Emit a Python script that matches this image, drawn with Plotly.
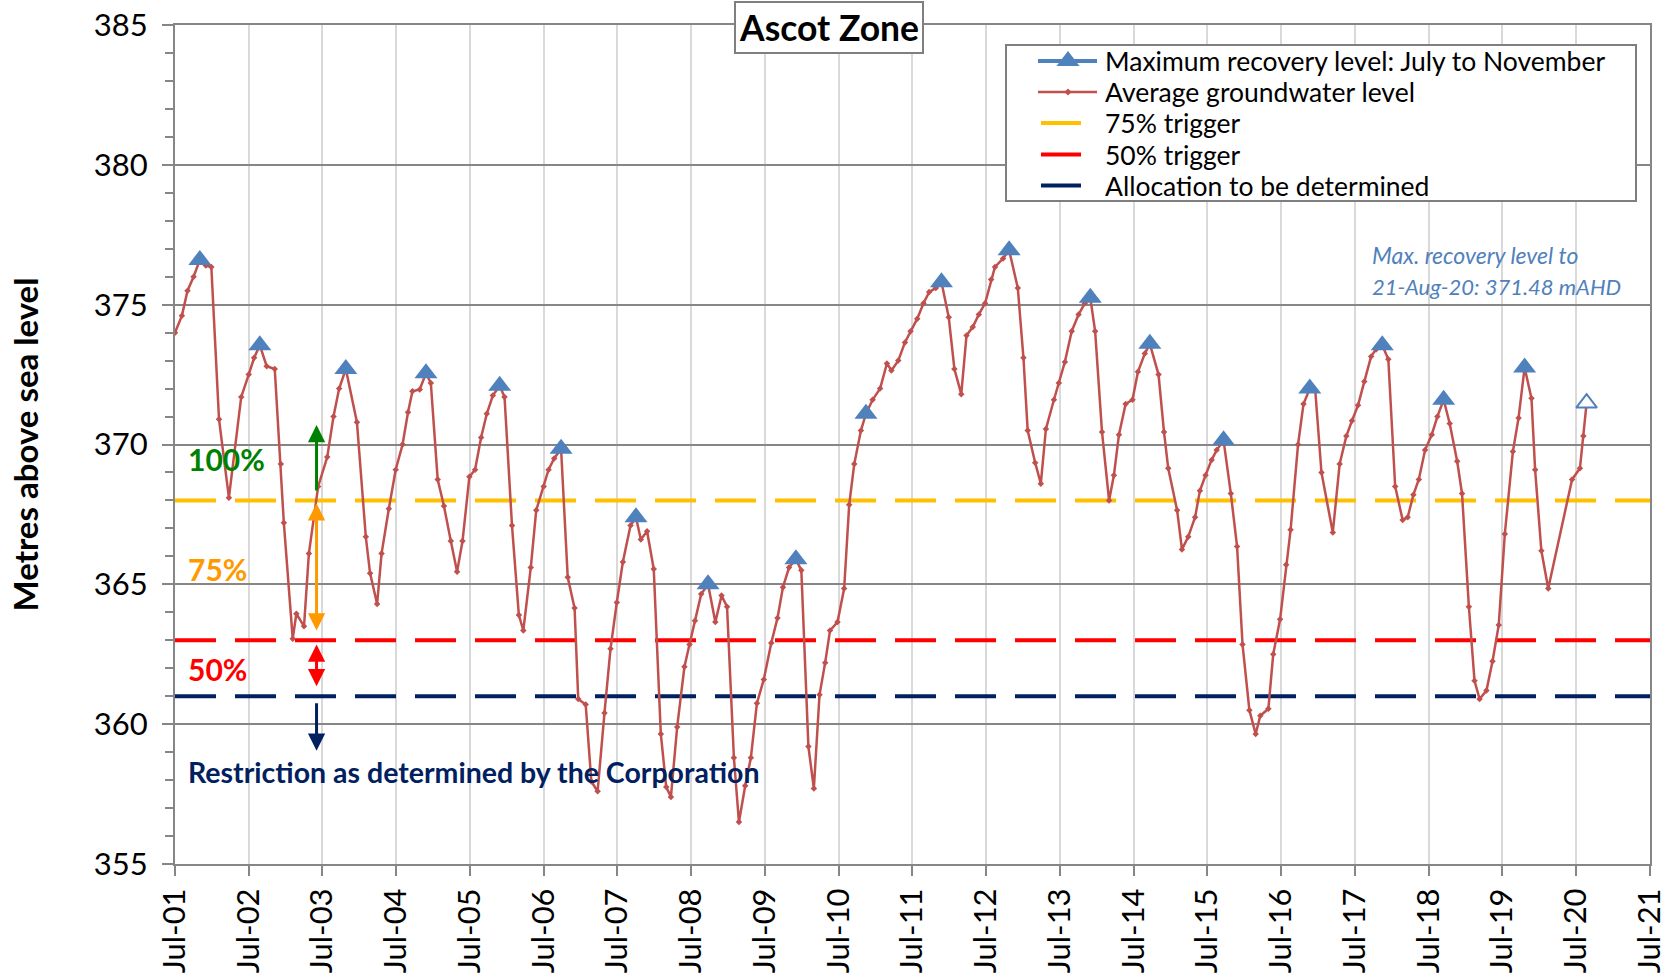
import plotly.graph_objects as go

# ---------------- data ----------------
avg_dates = [
    "2001-07-01", "2001-08-04", "2001-09-01", "2001-10-01", "2001-11-01", "2001-12-01", "2001-12-28",
    "2002-02-04", "2002-03-25", "2002-05-25", "2002-07-01", "2002-07-28", "2002-08-25", "2002-09-28",
    "2002-11-07", "2002-12-07", "2002-12-22", "2003-02-04", "2003-02-22", "2003-04-01", "2003-04-25",
    "2003-06-10", "2003-07-25", "2003-08-25", "2003-09-22", "2003-10-25", "2003-12-19", "2004-02-01",
    "2004-02-22", "2004-03-28", "2004-04-19", "2004-05-25", "2004-06-28", "2004-08-01", "2004-08-28",
    "2004-09-19", "2004-10-25", "2004-11-25", "2004-12-19", "2005-01-22", "2005-02-22", "2005-03-28",
    "2005-04-28", "2005-05-25", "2005-06-28", "2005-07-26", "2005-08-25", "2005-09-22", "2005-10-22",
    "2005-11-25", "2005-12-19", "2006-01-25", "2006-02-28", "2006-03-22", "2006-04-28", "2006-05-25",
    "2006-07-01", "2006-07-25", "2006-08-22", "2006-09-25", "2006-10-28", "2006-12-01", "2006-12-19",
    "2007-01-25", "2007-02-22", "2007-03-25", "2007-04-28", "2007-05-28", "2007-06-28", "2007-07-28",
    "2007-09-04", "2007-10-01", "2007-10-25", "2007-11-25", "2007-12-28", "2008-02-01", "2008-02-28",
    "2008-03-22", "2008-04-22", "2008-05-28", "2008-06-22", "2008-07-19", "2008-08-19", "2008-09-22",
    "2008-10-28", "2008-11-28", "2008-12-25", "2009-01-28", "2009-02-22", "2009-03-25", "2009-04-22",
    "2009-05-22", "2009-06-25", "2009-08-01", "2009-09-01", "2009-09-28", "2009-10-28", "2009-12-01",
    "2009-12-28", "2010-02-01", "2010-02-28", "2010-03-28", "2010-04-25", "2010-05-19", "2010-06-25",
    "2010-07-28", "2010-08-22", "2010-09-16", "2010-10-19", "2010-11-13", "2010-12-16", "2011-01-22",
    "2011-02-25", "2011-03-19", "2011-04-22", "2011-05-25", "2011-06-22", "2011-07-25", "2011-08-25",
    "2011-09-22", "2011-10-25", "2011-11-22", "2011-12-28", "2012-01-25", "2012-02-28", "2012-03-25",
    "2012-04-25", "2012-05-25", "2012-06-25", "2012-07-25", "2012-08-13", "2012-09-22", "2012-10-22",
    "2012-12-04", "2013-01-01", "2013-01-22", "2013-02-28", "2013-03-28", "2013-04-22", "2013-06-01",
    "2013-06-25", "2013-07-25", "2013-08-28", "2013-10-01", "2013-11-01", "2013-11-28", "2013-12-22",
    "2014-01-25", "2014-03-01", "2014-03-25", "2014-04-19", "2014-05-22", "2014-06-25", "2014-07-22",
    "2014-08-25", "2014-09-19", "2014-11-01", "2014-11-28", "2014-12-19", "2015-02-01", "2015-02-25",
    "2015-03-28", "2015-05-01", "2015-05-25", "2015-06-22", "2015-07-22", "2015-08-16", "2015-09-19",
    "2015-10-25", "2015-11-25", "2015-12-22", "2016-01-25", "2016-02-25", "2016-03-19", "2016-04-28",
    "2016-05-22", "2016-06-25", "2016-07-25", "2016-08-16", "2016-09-22", "2016-10-19", "2016-11-19",
    "2016-12-16", "2017-01-16", "2017-03-13", "2017-04-16", "2017-05-19", "2017-06-16", "2017-07-16",
    "2017-08-16", "2017-09-19", "2017-10-13", "2017-11-13", "2017-12-13", "2018-01-16", "2018-02-22",
    "2018-03-19", "2018-04-16", "2018-05-13", "2018-06-13", "2018-07-16", "2018-08-13", "2018-09-13",
    "2018-10-13", "2018-11-19", "2018-12-13", "2019-01-16", "2019-02-13", "2019-03-10", "2019-04-13",
    "2019-05-13", "2019-06-13", "2019-07-13", "2019-08-22", "2019-09-19", "2019-10-19", "2019-11-22",
    "2019-12-10", "2020-01-10", "2020-02-13", "2020-06-10", "2020-07-19", "2020-08-05", "2020-08-21",
]
avg_levels = [
    374.0, 374.6, 375.5, 376.0, 376.6, 376.4, 376.35,
    370.9, 368.1, 371.7, 372.5, 373.1, 373.55, 372.8,
    372.7, 369.3, 367.2, 363.05, 363.95, 363.5, 366.1,
    368.5, 369.55, 371.0, 372.0, 372.7, 370.8, 366.7,
    365.4, 364.3, 366.1, 367.7, 369.1, 370.0, 371.15,
    371.9, 371.97, 372.55, 372.2, 368.75, 367.8, 366.55,
    365.45, 366.55, 368.85, 369.1, 370.25, 371.1, 371.75,
    372.1, 371.7, 367.1, 363.9, 363.35, 365.6, 367.65,
    368.5, 369.1, 369.5, 369.85, 365.25, 364.15, 360.9,
    360.7, 357.95, 357.6, 360.4, 362.7, 364.35, 365.8,
    367.1, 367.4, 366.6, 366.9, 365.55, 359.65, 357.75,
    357.4, 359.9, 362.05, 362.85, 363.7, 364.65, 365.0,
    363.65, 364.6, 364.2, 358.8, 356.5, 357.8, 358.8,
    360.75, 361.6, 362.9, 363.8, 364.9, 365.6, 365.9,
    365.5, 359.2, 357.7, 361.05, 362.2, 363.35, 363.65,
    364.85, 367.85, 369.3, 370.5, 371.1, 371.6, 372.0,
    372.9, 372.65, 373.0, 373.65, 374.05, 374.5, 375.05,
    375.45, 375.6, 375.8, 374.55, 372.7, 371.8, 373.9,
    374.2, 374.65, 375.05, 375.9, 376.35, 376.65, 376.95,
    375.6, 373.1, 370.5, 369.35, 368.6, 370.55, 371.6,
    372.2, 372.95, 374.05, 374.65, 375.05, 375.25, 374.05,
    370.45, 368.0, 368.9, 370.35, 371.45, 371.6, 372.6,
    373.25, 373.6, 372.5, 370.45, 369.15, 367.65, 366.25,
    366.7, 367.4, 368.35, 368.9, 369.45, 369.8, 370.15,
    368.25, 366.35, 362.85, 360.5, 359.65, 360.3, 360.55,
    362.5, 363.75, 365.7, 366.95, 370.0, 371.45, 372.0,
    371.95, 369.0, 366.85, 369.3, 370.3, 370.85, 371.4,
    372.25, 373.15, 373.4, 373.55, 373.05, 368.5, 367.3,
    367.4, 368.2, 368.75, 369.8, 370.35, 371.0, 371.6,
    370.75, 369.4, 368.25, 364.2, 361.55, 360.9, 361.2,
    362.25, 363.55, 366.8, 369.75, 370.95, 372.75, 371.65,
    369.1, 366.2, 364.85, 368.75, 369.15, 370.3, 371.48,
]

max_dates = [
    "2001-11-01", "2002-08-25", "2003-10-25", "2004-11-25", "2005-11-25", "2006-09-25", "2007-10-01",
    "2008-09-22", "2009-12-01", "2010-11-13", "2011-11-22", "2012-10-22", "2013-11-28", "2014-09-19",
    "2015-09-19", "2016-11-19", "2017-11-13", "2018-09-13", "2019-10-19",
]
max_levels = [
    376.6, 373.55, 372.7, 372.55, 372.1, 369.85, 367.4,
    365.0, 365.9, 371.1, 375.8, 376.95, 375.25, 373.6,
    370.15, 372.0, 373.55, 371.6, 372.75,
]
current_date = ["2020-08-21"]
current_level = [371.48]

trigger_75 = 368.0
trigger_50 = 363.0
allocation_level = 361.0

tick_dates = ["%d-07-01" % y for y in range(2001, 2022)]
tick_labels = ["Jul-%02d" % (y % 100) for y in range(2001, 2022)]

legend_names = [
    "Maximum recovery level: July to November",
    "Average groundwater level",
    "75% trigger",
    "50% trigger",
    "Allocation to be determined",
]

x_start, x_end = "2001-07-01", "2021-07-01"

# ---------------- styles ----------------
FONT = "Lato"
BLUE = "#4F81BD"
RED_LINE = "#C0504D"
GOLD = "#FFC000"
RED = "#FF0000"
NAVY = "#002060"
GREEN = "#008000"
ORANGE = "#FF9900"
GRID = "#868686"
DASH = "41px,19px"

W, H = 1674, 973
ML, MR, MT, MB = 175, 24, 25, 109
PL, PR, PT, PB = ML, W - MR, MT, H - MB


def px_x(px):
    return (px - PL) / (PR - PL)


def px_y(py):
    return (PB - py) / (PB - PT)


fig = go.Figure()

# trigger lines
for lvl, col, nm in [(trigger_75, GOLD, legend_names[2]), (trigger_50, RED, legend_names[3]),
                     (allocation_level, NAVY, legend_names[4])]:
    fig.add_trace(go.Scatter(x=[x_start, x_end], y=[lvl, lvl], mode="lines", name=nm,
                             line=dict(color=col, width=4, dash=DASH),
                             showlegend=False, hoverinfo="skip"))

# average groundwater level
fig.add_trace(go.Scatter(x=avg_dates, y=avg_levels, mode="lines+markers", name=legend_names[1],
                         line=dict(color=RED_LINE, width=2.5),
                         marker=dict(color=RED_LINE, size=5, symbol="diamond"),
                         showlegend=False))

# max recovery
fig.add_trace(go.Scatter(x=max_dates, y=max_levels, mode="markers", name=legend_names[0],
                         marker=dict(color=BLUE, size=20, symbol="triangle-up"),
                         showlegend=False))
fig.add_trace(go.Scatter(x=current_date, y=current_level, mode="markers",
                         name="Max. recovery level to 21-Aug-20",
                         marker=dict(color="white", size=18, symbol="triangle-up",
                                     line=dict(color=BLUE, width=2)),
                         showlegend=False))

annotations = []
shapes = []

# ---- legend (drawn box) ----
lg_left, lg_right, lg_top, lg_bottom = 1006, 1636, 45, 201
row_y = [61, 92, 123, 154.5, 185.5]
sym_x0, sym_x1, sym_mid, dash_x1, text_x = 1038, 1097, 1068, 1081, 1103
shapes.append(dict(type="rect", xref="paper", yref="paper", layer="above",
                   x0=px_x(lg_left), x1=px_x(lg_right), y0=px_y(lg_bottom), y1=px_y(lg_top),
                   fillcolor="white", line=dict(color="#7F7F7F", width=2)))
legend_styles = [(BLUE, 4, sym_x1), (RED_LINE, 2.5, sym_x1), (GOLD, 4, dash_x1),
                 (RED, 4, dash_x1), (NAVY, 4, dash_x1)]
for i, (col, wdt, x1) in enumerate(legend_styles):
    y = px_y(row_y[i])
    shapes.append(dict(type="line", xref="paper", yref="paper", layer="above",
                       x0=px_x(sym_x0 if i < 2 else sym_x0 + 3), x1=px_x(x1), y0=y, y1=y,
                       line=dict(color=col, width=wdt)))
    annotations.append(dict(text=legend_names[i], xref="paper", yref="paper",
                            x=px_x(text_x), y=y, xanchor="left", yanchor="middle",
                            showarrow=False, font=dict(family=FONT, size=26.5, color="black")))
# legend marker glyphs
shapes.append(dict(type="path", xref="paper", yref="paper", layer="above",
                   xsizemode="pixel", ysizemode="pixel",
                   xanchor=px_x(sym_mid), yanchor=px_y(row_y[0]),
                   path="M-11.5,-5 L11.5,-5 L0,10 Z", fillcolor=BLUE, line=dict(width=0)))
shapes.append(dict(type="path", xref="paper", yref="paper", layer="above",
                   xsizemode="pixel", ysizemode="pixel",
                   xanchor=px_x(sym_mid), yanchor=px_y(row_y[1]),
                   path="M-3.5,0 L0,3.5 L3.5,0 L0,-3.5 Z", fillcolor=RED_LINE, line=dict(width=0)))

# title box
annotations.append(dict(text="<b>Ascot Zone</b>", xref="paper", yref="paper",
                        x=px_x(829), y=px_y(27.5),
                        xanchor="center", yanchor="middle", showarrow=False,
                        font=dict(family=FONT, size=35.5, color="black"),
                        bgcolor="white", bordercolor="#7F7F7F", borderwidth=2, borderpad=3))

# arrows
arrow_x = "2003-06-02"


def arrow(y_head, y_tail, color, both=False):
    return dict(x=arrow_x, y=y_head, ax=arrow_x, ay=y_tail, xref="x", yref="y",
                axref="x", ayref="y", text="", showarrow=True, arrowhead=2,
                arrowsize=1.15, arrowwidth=3, arrowcolor=color,
                arrowside="end+start" if both else "end")


annotations.append(arrow(370.7, 368.3, GREEN))
annotations.append(arrow(367.9, 363.3, ORANGE, both=True))
annotations.append(arrow(362.85, 361.3, RED, both=True))
annotations.append(arrow(359.05, 360.8, NAVY))

label_x = "2001-08-24"
for txt, yv, col, sz in [("100%", 369.47, GREEN, 30), ("75%", 365.54, ORANGE, 30),
                         ("50%", 361.96, RED, 30),
                         ("Restriction as determined by the Corporation", 358.28, NAVY, 28.5)]:
    annotations.append(dict(text="<b>%s</b>" % txt, x=label_x, y=yv, xref="x", yref="y",
                            xanchor="left", yanchor="middle", showarrow=False,
                            font=dict(family=FONT, size=sz, color=col)))

note_x = "2017-09-15"
annotations.append(dict(text="<i>Max. recovery level to</i>", x=note_x, y=376.76, xref="x", yref="y",
                        xanchor="left", yanchor="middle", showarrow=False,
                        font=dict(family=FONT, size=23, color=BLUE)))
annotations.append(dict(text="<i>21-Aug-20: 371.48 mAHD</i>", x=note_x, y=375.65, xref="x", yref="y",
                        xanchor="left", yanchor="middle", showarrow=False,
                        font=dict(family=FONT, size=22, color=BLUE)))

fig.update_layout(
    width=W, height=H,
    margin=dict(l=ML, r=MR, t=MT, b=MB, autoexpand=False),
    paper_bgcolor="white", plot_bgcolor="white",
    font=dict(family=FONT, color="black"),
    showlegend=False,
    annotations=annotations,
    shapes=shapes,
    xaxis=dict(type="date", range=[x_start, x_end], tickmode="array", automargin=False,
               tickvals=tick_dates, ticktext=tick_labels, tickangle=-90,
               tickfont=dict(family=FONT, size=31, color="black"),
               showgrid=True, gridcolor="#D9D9D9", gridwidth=2,
               showline=True, linecolor=GRID, linewidth=2, mirror=True,
               ticks="outside", ticklen=10, tickcolor=GRID, tickwidth=2,
               zeroline=False),
    yaxis=dict(range=[355, 385], tickmode="linear", tick0=355, dtick=5, automargin=False,
               tickfont=dict(family=FONT, size=31, color="black"),
               showgrid=True, gridcolor=GRID, gridwidth=2,
               showline=True, linecolor=GRID, linewidth=2, mirror=True,
               ticks="outside", ticklen=11, tickcolor=GRID, tickwidth=2,
               ticklabelstandoff=8,
               minor=dict(dtick=1, ticks="outside", ticklen=8, tickcolor=GRID,
                          tickwidth=2, showgrid=False),
               title=dict(text="<b>Metres above sea level</b>", standoff=45,
                          font=dict(family=FONT, size=33, color="black")),
               zeroline=False),
)

# remove the browser's default 8px page margin so the figure sits at the window origin
fig.write_html("out.html", config={"displayModeBar": False},
               post_script="document.body.style.margin='0px';")
